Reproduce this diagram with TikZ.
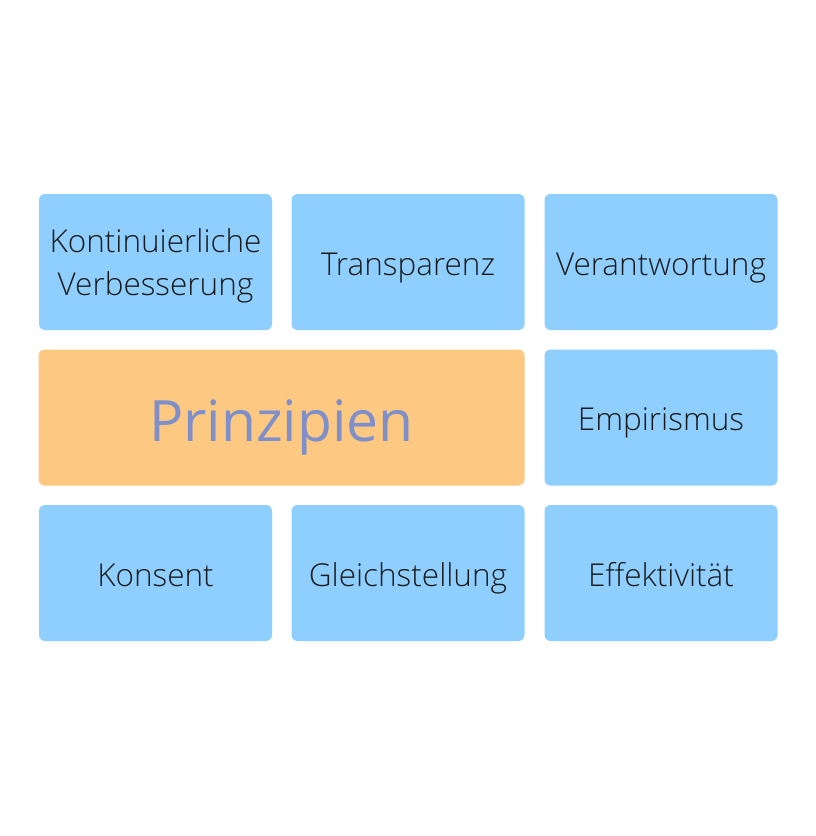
\documentclass[tikz,border=0pt]{standalone}
\usepackage{fontspec}
\setmainfont{Open Sans}[UprightFont=* Light]
\newfontfamily\regfont{Open Sans}
\definecolor{boxblue}{HTML}{8ECFFF}
\definecolor{boxorange}{HTML}{FDC882}
\definecolor{txtdark}{HTML}{1A1A1A}
\definecolor{txtpurple}{HTML}{7F8FC9}
\begin{document}
\begin{tikzpicture}[x=1pt,y=-1pt,
  tile/.style={fill=boxblue,rounded corners=6pt,draw=none,inner sep=0pt,
    minimum width=233pt,minimum height=136pt},
  main/.style={fill=boxorange,rounded corners=6pt,draw=none,inner sep=0pt,
    minimum width=486pt,minimum height=136pt},
  lbl/.style={anchor=base,inner sep=0pt,text=txtdark,font=\fontsize{31.5}{43}\selectfont},
  mainlbl/.style={anchor=base,inner sep=0pt,text=txtpurple,font=\regfont\fontsize{57}{60}\selectfont}]
\useasboundingbox (0,0) rectangle (816,836);
\fill[white] (0,0) rectangle (816,836);
\node[tile] (kv) at (155.5,262) {};
\node[tile] (tr) at (408,262) {};
\node[tile] (ve) at (661,262) {};
\node[main] (pr) at (281.5,417.5) {};
\node[tile] (em) at (661,417.5) {};
\node[tile] (ko) at (155.5,573) {};
\node[tile] (gl) at (408,573) {};
\node[tile] (ef) at (661,573) {};
\node[lbl] (kvA) at (155.5,252) {Kontinuierliche};
\node[lbl] (kvB) at (155.5,295) {Verbesserung};
\node[lbl] (trL) at (408,275) {Transparenz};
\node[lbl] (veL) at (661,275) {Verantwortung};
\node[mainlbl] (prL) at (281.5,441.5) {Prinzipien};
\node[lbl] (emL) at (661,430) {Empirismus};
\node[lbl] (koL) at (155.5,586) {Konsent};
\node[lbl] (glL) at (408,586) {Gleichstellung};
\node[lbl] (efL) at (661,586) {Effektivität};
\end{tikzpicture}
\end{document}
